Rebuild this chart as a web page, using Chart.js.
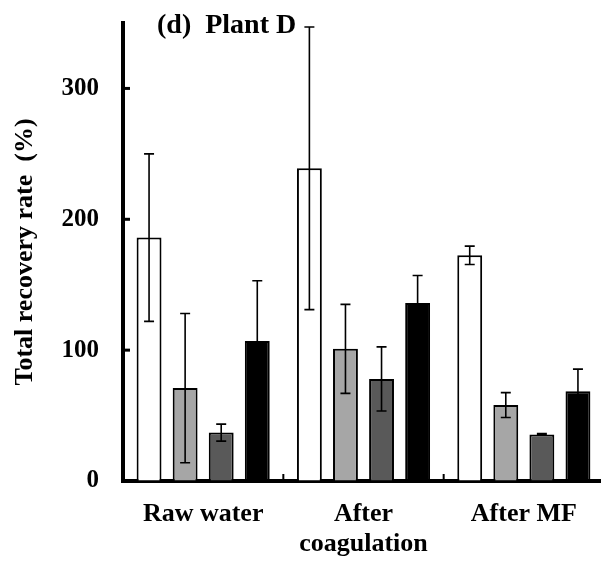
<!DOCTYPE html>
<html>
<head>
<meta charset="utf-8">
<script src="https://cdn.jsdelivr.net/npm/chart.js@4"></script>
<style>
    html, body { margin: 0; padding: 0; background: #fff; overflow: hidden; }
    canvas { display: block; }
</style>
</head>
<body>
<canvas id="myChart" width="604" height="561"></canvas>
<script>
// categories and values
const categories = ['Raw water', ['After', 'coagulation'], 'After MF'];
const seriesWhite = [186, 239, 172.5];
const seriesWhiteErr = [64, 108, 7];
const seriesLight = [71, 101, 58];
const seriesLightErr = [57, 34, 9.5];
const seriesDark = [37, 78, 35.6];
const seriesDarkErr = [6.5, 24.5, 0.6];
const seriesBlack = [107, 136, 68.5];
const seriesBlackErr = [46, 21, 17];
const tickValues = [0, 100, 200, 300];
const yMax = 350;

const fontName = '"Liberation Serif", "Times New Roman", serif';

/**
 * Error bars: stem + caps, drawn from the y scale
 */
const errorBars = {
    id: 'errorBars',
    afterDatasetsDraw(chart) {
        const ctx = chart.ctx;
        const yScale = chart.scales.y;
        ctx.save();
        ctx.strokeStyle = '#000';
        ctx.lineWidth = 1.6;
        chart.data.datasets.forEach((ds, i) => {
            const meta = chart.getDatasetMeta(i);
            meta.data.forEach((bar, j) => {
                const v = ds.data[j];
                const e = ds.errors[j];
                const yTop = yScale.getPixelForValue(v + e);
                const yBot = yScale.getPixelForValue(v - e);
                const half = 5;
                ctx.beginPath();
                ctx.moveTo(bar.x, yTop);
                ctx.lineTo(bar.x, yBot);
                ctx.moveTo(bar.x - half, yTop);
                ctx.lineTo(bar.x + half, yTop);
                ctx.moveTo(bar.x - half, yBot);
                ctx.lineTo(bar.x + half, yBot);
                ctx.stroke();
            });
        });
        ctx.restore();
    }
};

/**
 * Inward tick marks and panel label
 */
const axisDecor = {
    id: 'axisDecor',
    afterDraw(chart) {
        const ctx = chart.ctx;
        const area = chart.chartArea;
        const xScale = chart.scales.x;
        const yScale = chart.scales.y;
        ctx.save();
        ctx.strokeStyle = '#000';
        ctx.lineWidth = 3;
        tickValues.slice(1).forEach(v => {
            const y = yScale.getPixelForValue(v);
            ctx.beginPath();
            ctx.moveTo(area.left, y);
            ctx.lineTo(area.left + 7, y);
            ctx.stroke();
        });
        ctx.lineWidth = 2;
        for (let i = 0; i < categories.length - 1; i++) {
            const x = (xScale.getPixelForValue(i) + xScale.getPixelForValue(i + 1)) / 2;
            ctx.beginPath();
            ctx.moveTo(x, area.bottom);
            ctx.lineTo(x, area.bottom - 7);
            ctx.stroke();
        }
        ctx.fillStyle = '#000';
        ctx.font = 'bold 28px ' + fontName;
        ctx.textAlign = 'left';
        ctx.textBaseline = 'middle';
        ctx.fillText('(d)  Plant D', area.left + 34, area.top + 3);
        ctx.restore();
    }
};

document.addEventListener('DOMContentLoaded', function() {
    const ctx = document.getElementById('myChart').getContext('2d');
    const mk = (data, errors, color) => ({
        data: data,
        errors: errors,
        backgroundColor: color,
        borderColor: '#000',
        borderWidth: 2,
        borderSkipped: 'start'
    });
    new Chart(ctx, {
        type: 'bar',
        data: {
            labels: categories,
            datasets: [
                mk(seriesWhite, seriesWhiteErr, '#ffffff'),
                mk(seriesLight, seriesLightErr, '#a6a6a6'),
                mk(seriesDark, seriesDarkErr, '#595959'),
                mk(seriesBlack, seriesBlackErr, '#000000')
            ]
        },
        options: {
            responsive: false,
            animation: false,
            layout: { padding: { top: 23, left: 0, right: 0, bottom: 0 } },
            datasets: {
                bar: { categoryPercentage: 0.9, barPercentage: 0.69 }
            },
            plugins: {
                legend: { display: false },
                tooltip: { enabled: false }
            },
            scales: {
                x: {
                    z: 1,
                    grid: {
                        display: true,
                        drawOnChartArea: false,
                        drawTicks: true,
                        tickLength: 18,
                        color: 'rgba(0,0,0,0)',
                        tickColor: 'rgba(0,0,0,0)'
                    },
                    border: { display: true, color: '#000', width: 4 },
                    ticks: {
                        color: '#000',
                        padding: 0,
                        maxRotation: 0,
                        autoSkip: false,
                        font: { family: fontName, size: 26, weight: 'bold', lineHeight: 1.15 }
                    },
                    afterFit(scale) { scale.height = 80; }
                },
                y: {
                    z: 1,
                    min: 0,
                    max: yMax,
                    grid: {
                        display: true,
                        drawOnChartArea: false,
                        drawTicks: true,
                        tickLength: 24,
                        color: 'rgba(0,0,0,0)',
                        tickColor: 'rgba(0,0,0,0)'
                    },
                    border: { display: true, color: '#000', width: 4 },
                    ticks: {
                        color: '#000',
                        padding: 0,
                        stepSize: 100,
                        font: { family: fontName, size: 25, weight: 'bold' }
                    },
                    afterBuildTicks(scale) {
                        scale.ticks = tickValues.map(v => ({ value: v }));
                    },
                    title: {
                        display: true,
                        text: 'Total recovery rate  (%)',
                        color: '#000',
                        padding: { top: 10, bottom: 0 },
                        font: { family: fontName, size: 26, weight: 'bold' }
                    },
                    afterFit(scale) { scale.width = 123; }
                }
            }
        },
        plugins: [errorBars, axisDecor]
    });
});
</script>
</body>
</html>
